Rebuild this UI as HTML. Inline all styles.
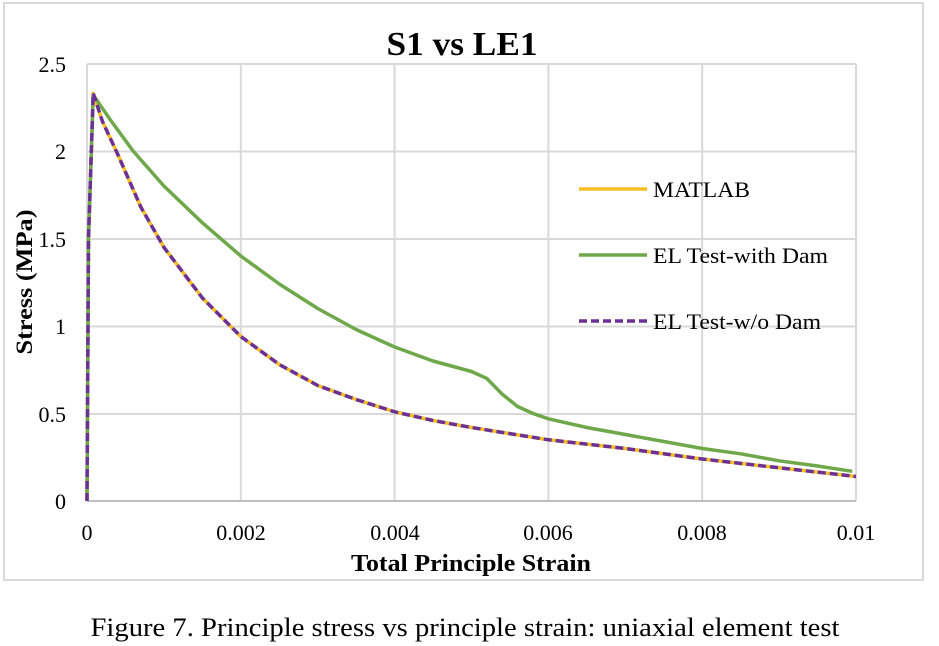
<!DOCTYPE html>
<html><head><meta charset="utf-8"><style>
body{margin:0;background:#fff;}
svg{display:block;font-family:"Liberation Serif",serif;}
</style></head><body>
<svg id="s" width="939" height="646" xmlns="http://www.w3.org/2000/svg">
<rect x="4" y="3" width="919" height="577" fill="#fff" stroke="#d9d9d9" stroke-width="2"/>
<text x="462" y="55" font-size="34" font-weight="bold" text-anchor="middle" textLength="151" lengthAdjust="spacingAndGlyphs">S1 vs LE1</text>
<g stroke="#d9d9d9" stroke-width="2">
<line x1="87" y1="64" x2="856" y2="64"/>
<line x1="87" y1="151.5" x2="856" y2="151.5"/>
<line x1="87" y1="239" x2="856" y2="239"/>
<line x1="87" y1="326.5" x2="856" y2="326.5"/>
<line x1="87" y1="414" x2="856" y2="414"/>
<line x1="87" y1="64" x2="87" y2="501"/>
<line x1="240.8" y1="64" x2="240.8" y2="501"/>
<line x1="394.6" y1="64" x2="394.6" y2="501"/>
<line x1="548.4" y1="64" x2="548.4" y2="501"/>
<line x1="702.2" y1="64" x2="702.2" y2="501"/>
<line x1="856" y1="64" x2="856" y2="501"/>
</g>
<line x1="87" y1="501" x2="856" y2="501" stroke="#bfbfbf" stroke-width="2"/>
<g font-size="22" text-anchor="end">
<text x="66" y="72">2.5</text><text x="66" y="159">2</text><text x="66" y="247">1.5</text>
<text x="66" y="334">1</text><text x="66" y="422">0.5</text><text x="66" y="509">0</text>
</g>
<g font-size="22" text-anchor="middle">
<text x="87" y="540">0</text><text x="241" y="540">0.002</text><text x="395" y="540">0.004</text>
<text x="548" y="540">0.006</text><text x="702" y="540">0.008</text><text x="856" y="540">0.01</text>
</g>
<text x="471" y="571" font-size="24" font-weight="bold" text-anchor="middle" textLength="240" lengthAdjust="spacingAndGlyphs">Total Principle Strain</text>
<text transform="translate(32,282) rotate(-90)" font-size="23" font-weight="bold" text-anchor="middle" textLength="145" lengthAdjust="spacingAndGlyphs">Stress (MPa)</text>
<g id="series" fill="none" stroke-linejoin="round"></g>
<line x1="579" y1="189" x2="647" y2="189" stroke="#f5be22" stroke-width="3.5"/>
<text x="653" y="197" font-size="22" textLength="97" lengthAdjust="spacingAndGlyphs">MATLAB</text>
<line x1="579" y1="255" x2="647" y2="255" stroke="#6fa84a" stroke-width="3.5"/>
<text x="653" y="263" font-size="22" textLength="175" lengthAdjust="spacingAndGlyphs">EL Test-with Dam</text>
<line x1="579" y1="321" x2="647" y2="321" stroke="#6b3197" stroke-width="3.5" stroke-dasharray="8,4"/>
<text x="653" y="329" font-size="22" textLength="168" lengthAdjust="spacingAndGlyphs">EL Test-w/o Dam</text>
<text x="465" y="636" font-size="26" text-anchor="middle" textLength="749" lengthAdjust="spacingAndGlyphs">Figure 7. Principle stress vs principle strain: uniaxial element test</text>
</svg>
<script>
function X(s){return 87+s*76900;}function Y(v){return 501-v*175;}
function pts(a){return a.map(p=>X(p[0]).toFixed(1)+","+Y(p[1]).toFixed(1)).join(" ");}
var m=[[0,0],[0.00002,1.5],[0.00008,2.33],[0.0002,2.17],[0.0004,1.98],[0.0007,1.68],[0.001,1.45],[0.0015,1.16],[0.002,0.94],[0.0025,0.78],[0.003,0.66],[0.0035,0.58],[0.004,0.51],[0.0045,0.46],[0.005,0.42],[0.006,0.35],[0.007,0.30],[0.008,0.24],[0.009,0.19],[0.01,0.14]];
var g=[[0,0],[0.00002,1.5],[0.00008,2.32],[0.0003,2.18],[0.0006,2.0],[0.001,1.8],[0.0015,1.59],[0.002,1.4],[0.0025,1.24],[0.003,1.1],[0.0035,0.98],[0.004,0.88],[0.0045,0.8],[0.005,0.74],[0.0052,0.70],[0.0054,0.61],[0.0056,0.54],[0.0058,0.5],[0.006,0.47],[0.0065,0.42],[0.007,0.38],[0.0075,0.34],[0.008,0.30],[0.0085,0.27],[0.009,0.23],[0.0095,0.20],[0.00995,0.17]];
var s=document.getElementById("series");
s.innerHTML='<polyline points="'+pts(m)+'" stroke="#f5be22" stroke-width="3.5"/>'+
'<polyline points="'+pts(g)+'" stroke="#6fa84a" stroke-width="3.5"/>'+
'<polyline points="'+pts(m)+'" stroke="#6b3197" stroke-width="3.5" stroke-dasharray="8,4"/>';
</script>
</body></html>
